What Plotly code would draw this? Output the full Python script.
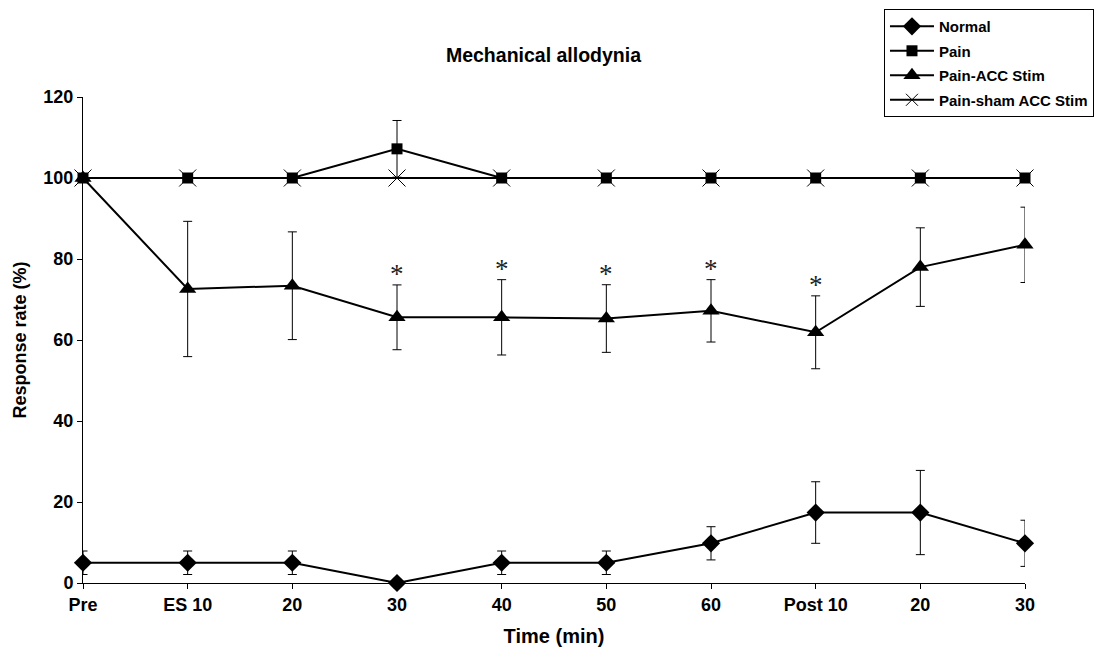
import plotly.graph_objects as go

categories = ["Pre", "ES 10", "20", "30", "40", "50", "60", "Post 10", "20 ", "30 "]

normal = [5, 5, 5, 0, 5, 5, 9.8, 17.4, 17.4, 9.8]
normal_err = [2.9, 2.9, 2.9, 0, 2.9, 2.9, 4.1, 7.6, 10.4, 5.7]

pain = [100, 100, 100, 107.2, 100, 100, 100, 100, 100, 100]
pain_err = [0, 0, 0, 7.0, 0, 0, 0, 0, 0, 0]

acc = [100, 72.6, 73.4, 65.6, 65.6, 65.3, 67.2, 61.9, 78.0, 83.5]
acc_err = [0, 16.7, 13.3, 8.0, 9.3, 8.35, 7.7, 9.0, 9.7, 9.3]

sham = [100, 100, 100, 100, 100, 100, 100, 100, 100, 100]

significant = ["30", "40", "50", "60", "Post 10"]

FONT = "Liberation Sans, Arial, sans-serif"

fig = go.Figure()

def err(arr):
    return dict(type="data", array=arr, visible=True, color="black", thickness=1, width=4.5)

fig.add_trace(go.Scatter(
    x=categories, y=normal, name="<b>Normal</b>", mode="lines+markers",
    line=dict(color="black", width=2),
    marker=dict(symbol="diamond", size=14, color="black"),
    error_y=err(normal_err), legendgroup="a", cliponaxis=False))
fig.add_trace(go.Scatter(
    x=categories, y=sham, name="<b>Pain-sham ACC Stim</b>", mode="lines+markers",
    line=dict(color="black", width=2),
    marker=dict(symbol="x-thin-open", size=17, color="black", line=dict(width=1, color="black")),
    showlegend=False, legendgroup="d", cliponaxis=False))
fig.add_trace(go.Scatter(
    x=categories, y=pain, name="<b>Pain</b>", mode="lines+markers",
    line=dict(color="black", width=2),
    marker=dict(symbol="square", size=11, color="black"),
    error_y=err(pain_err), legendgroup="b", cliponaxis=False))
fig.add_trace(go.Scatter(
    x=categories, y=acc, name="<b>Pain-ACC Stim</b>", mode="lines+markers",
    line=dict(color="black", width=2),
    marker=dict(symbol="triangle-up", size=15, color="black"),
    error_y=err(acc_err), legendgroup="c", cliponaxis=False))
# legend entry for sham (kept in original legend order)
fig.add_trace(go.Scatter(
    x=[None], y=[None], name="<b>Pain-sham ACC Stim</b>", mode="lines+markers",
    line=dict(color="black", width=2),
    marker=dict(symbol="x-thin-open", size=12, color="black", line=dict(width=1, color="black")),
    legendgroup="d"))

for c in significant:
    i = categories.index(c)
    fig.add_annotation(x=i, y=acc[i] + acc_err[i], text="*", showarrow=False,
                       xref="x", yref="y", yanchor="bottom", yshift=-6,
                       font=dict(family="Liberation Serif, Times New Roman, serif", size=27, color="#222222"))

fig.update_layout(
    width=1105, height=656,
    paper_bgcolor="white", plot_bgcolor="white",
    margin=dict(l=75, r=88, t=89, b=81, autoexpand=False),
    font=dict(family=FONT, size=15, color="black"),
    title=dict(text="<b>Mechanical allodynia</b>", x=0.4846, xanchor="center", y=0.928, yanchor="middle",
               font=dict(size=19.5, family=FONT, color="black")),
    legend=dict(x=0.8503, xanchor="left", y=1.181, yanchor="top",
                bordercolor="black", borderwidth=1, bgcolor="white",
                font=dict(size=15, family=FONT, color="black"),
                traceorder="grouped", tracegroupgap=2, itemwidth=44),
    showlegend=True,
)

fig.update_xaxes(
    type="category", categoryorder="array", categoryarray=categories,
    range=[0, 9], showline=True, linecolor="black", linewidth=1,
    ticks="outside", ticklen=5, tickcolor="black", tickwidth=1,
    showgrid=False, zeroline=False,
    tickvals=list(range(len(categories))),
    ticktext=["<b>%s</b>" % c.strip() for c in categories],
    title=dict(text="<b>Time (min)</b>", font=dict(size=20), standoff=15),
    tickfont=dict(size=18),
)
fig.update_yaxes(
    range=[0, 120], tickvals=[0, 20, 40, 60, 80, 100, 120],
    ticktext=["<b>%d</b>" % v for v in [0, 20, 40, 60, 80, 100, 120]],
    showline=True, linecolor="black", linewidth=1,
    ticks="outside", ticklen=5, tickcolor="black", tickwidth=1,
    showgrid=False, zeroline=False,
    title=dict(text="<b>Response rate (%)</b>", font=dict(size=18), standoff=12),
    tickfont=dict(size=18),
)

fig.write_html("out.html")
